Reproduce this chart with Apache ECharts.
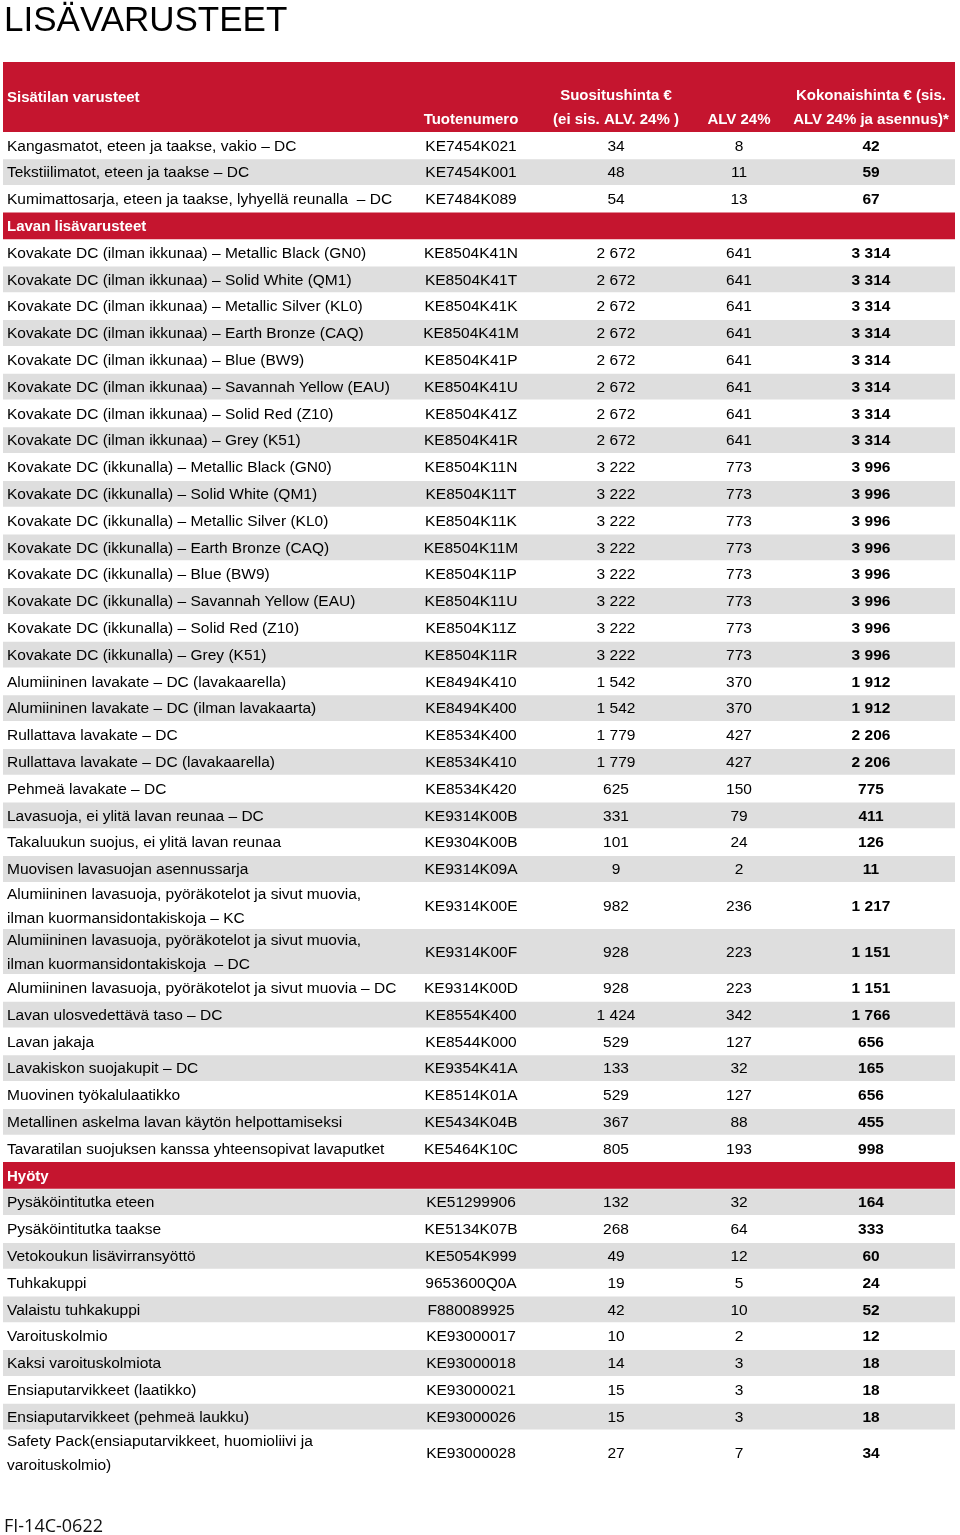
<!DOCTYPE html>
<html>
<head>
<meta charset="utf-8">
<script src="https://cdn.jsdelivr.net/npm/echarts@6/dist/echarts.min.js"></script>
<style>
html,body{margin:0;padding:0;background:#fff;}
#chart{width:960px;height:1535px;}
</style>
</head>
<body>
<div id="chart"></div>
<script>
// ---------- DATA ----------
const titleText = 'LISÄVARUSTEET';
const footerText = 'FI-14C-0622';
const columnHeaders = ['Tuotenumero', 'Suositushinta €\n(ei sis. ALV. 24% )', 'ALV 24%', 'Kokonaishinta € (sis.\nALV 24% ja asennus)*'];
const sectionTitles = ['Sisätilan varusteet', 'Lavan lisävarusteet', 'Hyöty'];
const sectionStarts = [0, 3, 36];

const names = [
  'Kangasmatot, eteen ja taakse, vakio – DC',
  'Tekstiilimatot, eteen ja taakse – DC',
  'Kumimattosarja, eteen ja taakse, lyhyellä reunalla  – DC',
  'Kovakate DC (ilman ikkunaa) – Metallic Black (GN0)',
  'Kovakate DC (ilman ikkunaa) – Solid White (QM1)',
  'Kovakate DC (ilman ikkunaa) – Metallic Silver (KL0)',
  'Kovakate DC (ilman ikkunaa) – Earth Bronze (CAQ)',
  'Kovakate DC (ilman ikkunaa) – Blue (BW9)',
  'Kovakate DC (ilman ikkunaa) – Savannah Yellow (EAU)',
  'Kovakate DC (ilman ikkunaa) – Solid Red (Z10)',
  'Kovakate DC (ilman ikkunaa) – Grey (K51)',
  'Kovakate DC (ikkunalla) – Metallic Black (GN0)',
  'Kovakate DC (ikkunalla) – Solid White (QM1)',
  'Kovakate DC (ikkunalla) – Metallic Silver (KL0)',
  'Kovakate DC (ikkunalla) – Earth Bronze (CAQ)',
  'Kovakate DC (ikkunalla) – Blue (BW9)',
  'Kovakate DC (ikkunalla) – Savannah Yellow (EAU)',
  'Kovakate DC (ikkunalla) – Solid Red (Z10)',
  'Kovakate DC (ikkunalla) – Grey (K51)',
  'Alumiininen lavakate – DC (lavakaarella)',
  'Alumiininen lavakate – DC (ilman lavakaarta)',
  'Rullattava lavakate – DC',
  'Rullattava lavakate – DC (lavakaarella)',
  'Pehmeä lavakate – DC',
  'Lavasuoja, ei ylitä lavan reunaa – DC',
  'Takaluukun suojus, ei ylitä lavan reunaa',
  'Muovisen lavasuojan asennussarja',
  'Alumiininen lavasuoja, pyöräkotelot ja sivut muovia,\nilman kuormansidontakiskoja – KC',
  'Alumiininen lavasuoja, pyöräkotelot ja sivut muovia,\nilman kuormansidontakiskoja  – DC',
  'Alumiininen lavasuoja, pyöräkotelot ja sivut muovia – DC',
  'Lavan ulosvedettävä taso – DC',
  'Lavan jakaja',
  'Lavakiskon suojakupit – DC',
  'Muovinen työkalulaatikko',
  'Metallinen askelma lavan käytön helpottamiseksi',
  'Tavaratilan suojuksen kanssa yhteensopivat lavaputket',
  'Pysäköintitutka eteen',
  'Pysäköintitutka taakse',
  'Vetokoukun lisävirransyöttö',
  'Tuhkakuppi',
  'Valaistu tuhkakuppi',
  'Varoituskolmio',
  'Kaksi varoituskolmiota',
  'Ensiaputarvikkeet (laatikko)',
  'Ensiaputarvikkeet (pehmeä laukku)',
  'Safety Pack(ensiaputarvikkeet, huomioliivi ja\nvaroituskolmio)'
];

const codes = [
  'KE7454K021','KE7454K001','KE7484K089',
  'KE8504K41N','KE8504K41T','KE8504K41K','KE8504K41M','KE8504K41P','KE8504K41U','KE8504K41Z','KE8504K41R',
  'KE8504K11N','KE8504K11T','KE8504K11K','KE8504K11M','KE8504K11P','KE8504K11U','KE8504K11Z','KE8504K11R',
  'KE8494K410','KE8494K400','KE8534K400','KE8534K410','KE8534K420','KE9314K00B','KE9304K00B','KE9314K09A',
  'KE9314K00E','KE9314K00F','KE9314K00D','KE8554K400','KE8544K000','KE9354K41A','KE8514K01A','KE5434K04B','KE5464K10C',
  'KE51299906','KE5134K07B','KE5054K999','9653600Q0A','F880089925','KE93000017','KE93000018','KE93000021','KE93000026','KE93000028'
];

const prices = [
  34, 48, 54,
  2672, 2672, 2672, 2672, 2672, 2672, 2672, 2672,
  3222, 3222, 3222, 3222, 3222, 3222, 3222, 3222,
  1542, 1542, 1779, 1779, 625, 331, 101, 9,
  982, 928, 928, 1424, 529, 133, 529, 367, 805,
  132, 268, 49, 19, 42, 10, 14, 15, 15, 27
];

const vats = [
  8, 11, 13,
  641, 641, 641, 641, 641, 641, 641, 641,
  773, 773, 773, 773, 773, 773, 773, 773,
  370, 370, 427, 427, 150, 79, 24, 2,
  236, 223, 223, 342, 127, 32, 127, 88, 193,
  32, 64, 12, 5, 10, 2, 3, 3, 3, 7
];

const totals = [
  42, 59, 67,
  3314, 3314, 3314, 3314, 3314, 3314, 3314, 3314,
  3996, 3996, 3996, 3996, 3996, 3996, 3996, 3996,
  1912, 1912, 2206, 2206, 775, 411, 126, 11,
  1217, 1151, 1151, 1766, 656, 165, 656, 455, 998,
  164, 333, 60, 24, 52, 12, 18, 18, 18, 34
];

// ---------- LAYOUT (not data) ----------
const ROW_PX = 26.8;
const HEADER_U = 70 / ROW_PX;
const DOUBLE_U = 46 / ROW_PX;
const RED = '#c5152f';
const GRAY = '#dedede';
const FONT = '"Liberation Sans", Arial, Helvetica, sans-serif';
const BODY_SIZE = 15.5;
const stripeStartGray = [false, false, true];
const COL_X = { name: 4, code: 468, price: 613, vat: 736, total: 868 };
const TABLE_W = 952;

const fmt = v => String(v).replace(/\B(?=(\d{3})+(?!\d))/g, ' ');

const items = [];
let yy = 0;
items.push({ kind: 'header', y0: 0, y1: HEADER_U, title: sectionTitles[0] });
yy = HEADER_U;
let sec = 0, secRow = 0;
names.forEach((n, i) => {
  const sIdx = sectionStarts.indexOf(i);
  if (sIdx > 0) {
    items.push({ kind: 'section', y0: yy, y1: yy + 1, title: sectionTitles[sIdx] });
    yy += 1;
    sec = sIdx; secRow = 0;
  } else if (sIdx === 0) { sec = 0; secRow = 0; }
  const u = n.split('\n').length > 1 ? DOUBLE_U : 1;
  const gray = (secRow % 2 === 1) !== stripeStartGray[sec];
  items.push({ kind: 'row', y0: yy, y1: yy + u, idx: i, gray });
  yy += u;
  secRow++;
});
const TOTAL_U = yy;
const GRID_H = TOTAL_U * ROW_PX;

function txt(text, x, y, opt) {
  return {
    type: 'text',
    style: Object.assign({
      text, x, y,
      fill: '#000',
      fontFamily: FONT,
      fontSize: BODY_SIZE,
      fontWeight: 'normal',
      align: 'center',
      verticalAlign: 'middle',
      lineHeight: 24
    }, opt || {})
  };
}

function renderItem(params, api) {
  const it = items[api.value(2)];
  const p0 = api.coord([0, api.value(0)]);
  const p1 = api.coord([TABLE_W, api.value(1)]);
  const cx = k => api.coord([COL_X[k], 0])[0];
  const top = p0[1], bot = p1[1], mid = (top + bot) / 2;
  const children = [];
  if (it.kind === 'header') {
    children.push({ type: 'rect', shape: { x: p0[0], y: top, width: p1[0] - p0[0], height: bot - top }, style: { fill: RED } });
    const hs = { fill: '#fff', fontWeight: 'bold', fontSize: 15 };
    children.push(txt(it.title, cx('name'), top + 35.5, Object.assign({ align: 'left' }, hs)));
    const keys = ['code', 'price', 'vat', 'total'];
    columnHeaders.forEach((h, j) => {
      const lines = h.split('\n').length;
      const yc = lines > 1 ? bot - 24.5 : bot - 12.5;
      children.push(txt(h, cx(keys[j]), yc, hs));
    });
  } else if (it.kind === 'section') {
    children.push({ type: 'rect', shape: { x: p0[0], y: top, width: p1[0] - p0[0], height: bot - top }, style: { fill: RED } });
    children.push(txt(it.title, cx('name'), mid + 1, { align: 'left', fill: '#fff', fontWeight: 'bold', fontSize: 15 }));
  } else {
    if (it.gray) {
      children.push({ type: 'rect', shape: { x: p0[0], y: top + 0.5, width: p1[0] - p0[0], height: bot - top - 1 }, style: { fill: GRAY } });
    }
    const i = it.idx;
    const y = mid + 1;
    children.push(txt(names[i], cx('name'), y, { align: 'left' }));
    children.push(txt(codes[i], cx('code'), y));
    children.push(txt(fmt(prices[i]), cx('price'), y));
    children.push(txt(fmt(vats[i]), cx('vat'), y));
    children.push(txt(fmt(totals[i]), cx('total'), y, { fontWeight: 'bold' }));
  }
  return { type: 'group', children };
}

const chart = echarts.init(document.getElementById('chart'), null, { renderer: 'canvas' });
chart.setOption({
  animation: false,
  backgroundColor: '#fff',
  title: [
    { text: titleText, left: 4, top: 4, padding: 0, textStyle: { fontFamily: FONT, fontSize: 35, fontWeight: 'normal', color: '#000' } },
    { text: footerText, left: 4, top: 1518, padding: 0, textStyle: { fontFamily: '"Open Sans", "Liberation Sans", sans-serif', fontSize: 18, fontWeight: 'normal', color: '#111' } }
  ],
  grid: { left: 3, top: 62, width: TABLE_W, height: GRID_H, containLabel: false },
  xAxis: { type: 'value', min: 0, max: TABLE_W, show: false },
  yAxis: { type: 'value', min: 0, max: TOTAL_U, inverse: true, show: false },
  series: [{
    type: 'custom',
    renderItem,
    clip: false,
    encode: { x: -1, y: [0, 1] },
    data: items.map((it, k) => [it.y0, it.y1, k])
  }]
});
</script>
</body>
</html>
